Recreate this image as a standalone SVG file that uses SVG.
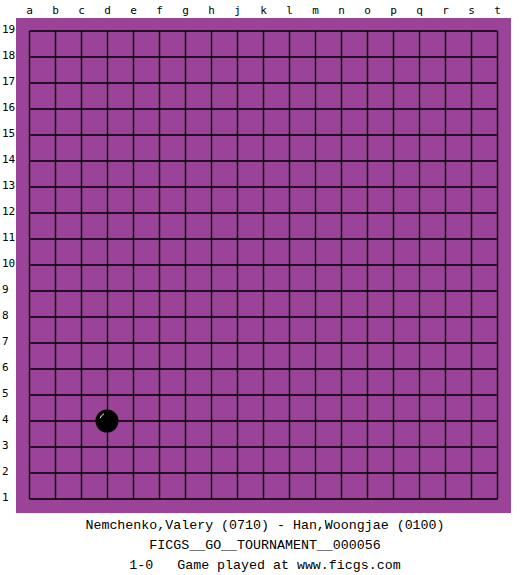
<svg xmlns="http://www.w3.org/2000/svg" width="525" height="575" viewBox="0 0 525 575">
<style>
.lbl{font-family:"DejaVu Sans Mono","Liberation Mono",monospace;font-size:11px;fill:#000}
.col{text-anchor:middle}
.info{font-family:"Liberation Mono","DejaVu Sans Mono",monospace;font-size:13.3px;fill:#000;text-anchor:middle}
.grid{stroke:#000;stroke-width:1.4;fill:none}
</style>
<rect width="525" height="575" fill="#ffffff"/>
<g id="board">
<rect x="16" y="18" width="495" height="495" fill="#9b4399"/>
<path class="grid" d="M29.5 31H497.5M29.5 57H497.5M29.5 83H497.5M29.5 109H497.5M29.5 135H497.5M29.5 161H497.5M29.5 187H497.5M29.5 213H497.5M29.5 239H497.5M29.5 265H497.5M29.5 291H497.5M29.5 317H497.5M29.5 343H497.5M29.5 369H497.5M29.5 395H497.5M29.5 421H497.5M29.5 447H497.5M29.5 473H497.5M29.5 499H497.5
M29.5 31V499M55.5 31V499M81.5 31V499M107.5 31V499M133.5 31V499M159.5 31V499M185.5 31V499M211.5 31V499M237.5 31V499M263.5 31V499M289.5 31V499M315.5 31V499M341.5 31V499M367.5 31V499M393.5 31V499M419.5 31V499M445.5 31V499M471.5 31V499M497.5 31V499"/>
</g>
<g id="col-labels" class="lbl col">
<text x="29.5" y="14">a</text><text x="55.5" y="14">b</text><text x="81.5" y="14">c</text><text x="107.5" y="14">d</text><text x="133.5" y="14">e</text><text x="159.5" y="14">f</text><text x="185.5" y="14">g</text><text x="211.5" y="14">h</text><text x="237.5" y="14">j</text><text x="263.5" y="14">k</text><text x="289.5" y="14">l</text><text x="315.5" y="14">m</text><text x="341.5" y="14">n</text><text x="367.5" y="14">o</text><text x="393.5" y="14">p</text><text x="419.5" y="14">q</text><text x="445.5" y="14">r</text><text x="471.5" y="14">s</text><text x="497.5" y="14">t</text>
</g>
<g id="row-labels" class="lbl">
<text x="2" y="33">19</text><text x="2" y="59">18</text><text x="2" y="85">17</text><text x="2" y="111">16</text><text x="2" y="137">15</text><text x="2" y="163">14</text><text x="2" y="189">13</text><text x="2" y="215">12</text><text x="2" y="241">11</text><text x="2" y="267">10</text><text x="2" y="293">9</text><text x="2" y="319">8</text><text x="2" y="345">7</text><text x="2" y="371">6</text><text x="2" y="397">5</text><text x="2" y="423">4</text><text x="2" y="449">3</text><text x="2" y="475">2</text><text x="2" y="501">1</text>
</g>
<g id="stone-d4">
<circle cx="107" cy="421" r="11.5" fill="#000"/>
<path d="M100 418.3A8 8 0 0 1 104 413.8" stroke="#fff" stroke-width="1" fill="none"/>
</g>
<g id="info">
<text class="info" x="265" y="529">Nemchenko,Valery (0710) - Han,Woongjae (0100)</text>
<text class="info" x="265" y="549">FICGS__GO__TOURNAMENT__000056</text>
<text class="info" x="265" y="569" xml:space="preserve">1-0   Game played at www.ficgs.com</text>
</g>
</svg>
